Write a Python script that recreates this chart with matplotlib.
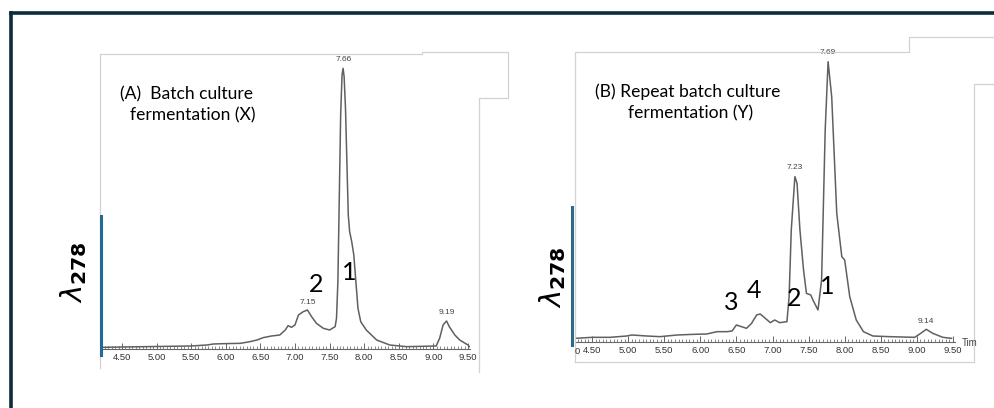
import numpy as np
import matplotlib.pyplot as plt
from matplotlib.lines import Line2D
from matplotlib.ticker import MultipleLocator, FormatStrFormatter

#==============================================================================
# data (retention time in min, detector signal in arbitrary units)
#==============================================================================

time_a = [4.21, 4.50, 5.49, 5.73, 5.82, 5.97, 6.21, 6.35, 6.45, 6.54, 6.66,
          6.78, 6.86, 6.90, 6.95, 7.00, 7.05, 7.12, 7.18, 7.24, 7.31, 7.41,
          7.50, 7.58, 7.60, 7.62, 7.64, 7.66, 7.68, 7.695, 7.71, 7.73, 7.75,
          7.77, 7.79, 7.82, 7.85, 7.88, 7.91, 7.95, 8.03, 8.18, 8.37, 8.61,
          9.04, 9.09, 9.14, 9.19, 9.23, 9.31, 9.38, 9.50, 9.52]
sig_a = [3, 4, 7, 10, 13, 14, 15, 20, 25, 32, 37,
         40, 55, 68, 63, 70, 100, 110, 115, 95, 75, 60,
         55, 65, 90, 200, 450, 700, 820, 840, 815, 720, 560,
         400, 350, 320, 280, 200, 120, 80, 55, 25, 10, 5,
         7, 30, 70, 82, 65, 40, 25, 10, 5]

time_b = [4.27, 4.50, 4.75, 4.98, 5.05, 5.26, 5.44, 5.68, 5.91, 6.09, 6.23,
          6.37, 6.44, 6.50, 6.57, 6.64, 6.71, 6.78, 6.83, 6.90, 6.97, 7.03,
          7.10, 7.20, 7.23, 7.26, 7.31, 7.34, 7.38, 7.43, 7.47, 7.53, 7.56,
          7.63, 7.68, 7.73, 7.77, 7.82, 7.89, 7.96, 8.00, 8.07, 8.16, 8.26,
          8.39, 8.62, 8.97, 9.04, 9.13, 9.22, 9.36, 9.48]
sig_b = [0, 3, 3, 7, 10, 7, 5, 10, 12, 13, 20,
         20, 22, 40, 35, 30, 45, 70, 73, 60, 47, 55,
         47, 50, 125, 325, 485, 465, 325, 205, 135, 130, 115,
         85, 175, 625, 830, 725, 375, 245, 235, 125, 55, 20,
         7, 5, 3, 13, 27, 15, 3, 0]

# peak labels printed by the instrument: (text, x, y)
peaks_a = [('7.66', 7.70, 857), ('7.15', 7.18, 128), ('9.19', 9.19, 97)]
peaks_b = [('7.69', 7.77, 848), ('7.23', 7.31, 502), ('9.14', 9.13, 40)]

ticks = [4.5, 5.0, 5.5, 6.0, 6.5, 7.0, 7.5, 8.0, 8.5, 9.0, 9.5]

#==============================================================================
# styles
#==============================================================================

W, H = 995, 408
navy = '#0e2a3b'
frame_grey = '#d2d2d2'
trace_grey = '#606060'
blue_a = '#1f6d94'
blue_b = '#2c6a86'

line_style_trace = {'color': trace_grey, 'linewidth': 1.1}
font_title = {'family': 'Lato', 'size': 12.6, 'color': 'k'}
font_num = {'family': 'Lato', 'size': 18, 'color': 'k'}


def fx(x):
    return x / W


def fy(y):
    return 1 - y / H


def add_px_axes(fig, l, t, r, b):
    return fig.add_axes([fx(l), fy(b), (r - l) / W, (b - t) / H])


def px_line(fig, xs, ys, **kw):
    fig.add_artist(Line2D([fx(x) for x in xs], [fy(y) for y in ys],
                          transform=fig.transFigure, **kw))


def style_axis(ax, xlim, ylim):
    ax.set_xlim(xlim)
    ax.set_ylim(ylim)
    for s in ['top', 'right', 'left']:
        ax.spines[s].set_visible(False)
    ax.spines['bottom'].set_color('#666666')
    ax.spines['bottom'].set_linewidth(0.8)
    ax.set_yticks([])
    ax.set_xticks(ticks)
    ax.xaxis.set_major_formatter(FormatStrFormatter('%.2f'))
    ax.xaxis.set_minor_locator(MultipleLocator(0.05))
    ax.tick_params(axis='x', which='major', direction='in', length=4,
                   width=0.7, color='#666666', labelsize=6.8,
                   labelcolor='#333333', pad=3)
    ax.tick_params(axis='x', which='minor', direction='in', length=2.5,
                   width=0.6, color='#777777')
    ax.patch.set_alpha(0)
    for lab in ax.get_xticklabels():
        lab.set_family('Liberation Sans')


#==============================================================================
# plot
#==============================================================================

plt.close('all')
fig = plt.figure(figsize=(W / 100, H / 100), dpi=100)
fig.patch.set_facecolor('white')

# outer frame (only top and left visible)
px_line(fig, [11, 995], [12.5, 12.5], color=navy, linewidth=2.6)
px_line(fig, [11, 11], [12.5, 408], color=navy, linewidth=2.6)

# scanned-image frames
fr = {'color': frame_grey, 'linewidth': 0.9}
px_line(fig, [100, 100, 422, 422, 508, 508, 479, 479],
        [368, 54, 54, 52, 52, 98, 98, 372], **fr)
px_line(fig, [575, 575, 909, 909, 995], [362, 52, 52, 37, 37], **fr)
px_line(fig, [575, 974, 974, 995], [362, 362, 84, 84], **fr)

# panel A
axA = add_px_axes(fig, 101, 54, 470, 349)
style_axis(axA, (4.197, 9.529), (-2, 883))
axA.plot(time_a, sig_a, **line_style_trace)
for txt, x, y in peaks_a:
    axA.text(x, y, txt, ha='center', va='bottom', fontsize=6,
             color='#444444', family='Liberation Sans')

# panel B
axB = add_px_axes(fig, 576, 45, 955, 342)
style_axis(axB, (4.278, 9.528), (-11, 880))
axB.plot(time_b, sig_b, **line_style_trace)
for txt, x, y in peaks_b:
    axB.text(x, y, txt, ha='center', va='bottom', fontsize=6,
             color='#444444', family='Liberation Sans')
fig.text(fx(577), fy(352), '0', ha='center', va='center', fontsize=6.8,
         color='#333333', family='Liberation Sans')
fig.text(fx(962), fy(343), 'Tim', ha='left', va='center', fontsize=7,
         color='#444444', family='Liberation Sans')

# blue bars and wavelength labels
px_line(fig, [101, 101], [216, 355], color=blue_a, linewidth=2.2)
px_line(fig, [572, 572], [207, 345], color=blue_b, linewidth=2.2)
for x, y in [(74, 272), (553, 277)]:
    fig.text(fx(x), fy(y), r'$\lambda_{\mathbf{278}}$', rotation=90,
             ha='center', va='center', fontsize=21, color='k')

# titles
fig.text(fx(120), fy(94), '(A)  Batch culture', ha='left', va='center',
         **font_title)
fig.text(fx(130), fy(115), 'fermentation (X)', ha='left', va='center',
         **font_title)
fig.text(fx(595), fy(92), '(B) Repeat batch culture', ha='left',
         va='center', **font_title)
fig.text(fx(628), fy(113), 'fermentation (Y)', ha='left', va='center',
         **font_title)

# peak numbers
for txt, x, y in [('2', 316, 284), ('1', 349, 272), ('3', 731, 303),
                  ('4', 754, 291), ('2', 794, 299), ('1', 827, 286)]:
    fig.text(fx(x), fy(y), txt, ha='center', va='center', **font_num)

fig.savefig('out.png', dpi=100, facecolor='white')
